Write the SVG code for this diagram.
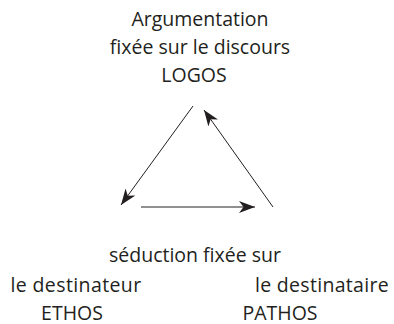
<svg xmlns="http://www.w3.org/2000/svg" width="394" height="324" viewBox="0 0 394 324">
<style>
text{font-family:"Open Sans","DejaVu Sans",sans-serif;font-size:19.5px;fill:#231f20;text-anchor:middle}
.ln{stroke:#231f20;stroke-width:1;fill:none;marker-end:url(#ah)}
</style>
<defs>
<marker id="ah" markerUnits="userSpaceOnUse" markerWidth="17" markerHeight="12" refX="16" refY="6" orient="auto" viewBox="0 0 17 12">
<path d="M0,0 L16,6 L0,12 L4.5,6 Z" fill="#231f20"/>
</marker>
</defs>
<rect width="394" height="324" fill="#fff"/>
<g id="logos">
<text x="200" y="25.5">Argumentation</text>
<text x="200" y="53.5">fixée sur le discours</text>
<text x="194" y="81.5">LOGOS</text>
</g>
<g id="seduction">
<text x="195" y="262">séduction fixée sur</text>
</g>
<g id="ethos">
<text x="76" y="292" letter-spacing="0.4">le destinateur</text>
<text x="72" y="319.5">ETHOS</text>
</g>
<g id="pathos">
<text x="322" y="292" letter-spacing="0.3">le destinataire</text>
<text x="280" y="319.5">PATHOS</text>
</g>
<g id="connectors">
<line class="ln" x1="193" y1="106" x2="121" y2="205"/>
<line class="ln" x1="141" y1="207" x2="255" y2="207"/>
<line class="ln" x1="273" y1="207" x2="204" y2="110"/>
</g>
</svg>
